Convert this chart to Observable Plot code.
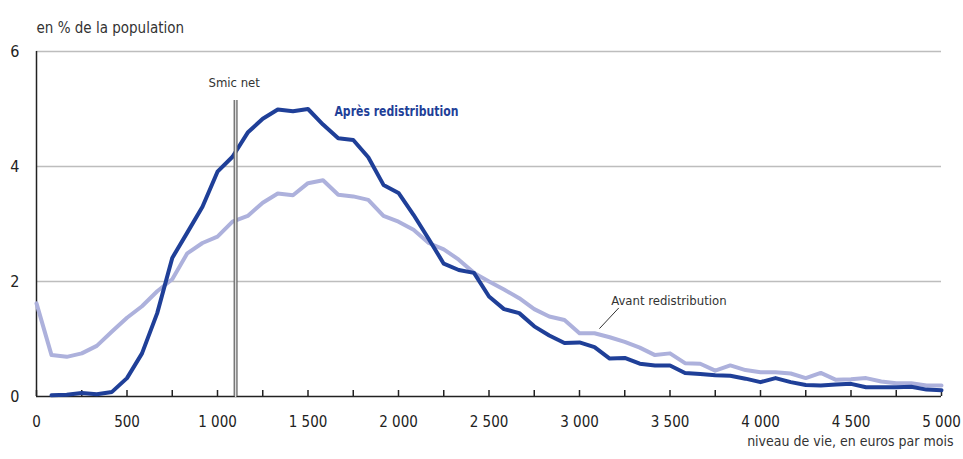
<!DOCTYPE html>
<html><head><meta charset="utf-8">
<script src="https://cdn.jsdelivr.net/npm/d3@7"></script>
<script src="https://cdn.jsdelivr.net/npm/@observablehq/plot@0.6"></script>
<style>
body{margin:0;background:#fff;}
#chart svg{font-family:"Liberation Sans Narrow","Arial Narrow","DejaVu Sans Condensed",sans-serif;}
</style></head><body><div id="chart"></div>
<script>
// niveau de vie mensuel (euros) : tranches de 1 000 € annuels
const niveau = [0,83,167,250,333,417,500,583,667,750,833,917,1000,1083,1167,1250,1333,1417,1500,1583,1667,1750,1833,1917,2000,2083,2167,2250,2333,2417,2500,2583,2667,2750,2833,2917,3000,3083,3167,3250,3333,3417,3500,3583,3667,3750,3833,3917,4000,4083,4167,4250,4333,4417,4500,4583,4667,4750,4833,4917,5000];
const avantRedistribution = [1.62,0.72,0.69,0.75,0.88,1.13,1.37,1.57,1.83,2.04,2.49,2.67,2.78,3.04,3.14,3.37,3.53,3.50,3.71,3.76,3.51,3.48,3.42,3.14,3.04,2.90,2.67,2.56,2.38,2.15,2.00,1.86,1.71,1.52,1.39,1.33,1.10,1.10,1.03,0.95,0.85,0.72,0.75,0.58,0.57,0.45,0.54,0.46,0.42,0.42,0.40,0.32,0.41,0.29,0.30,0.32,0.26,0.23,0.23,0.19,0.19];
const apresRedistribution = [null,0.02,0.03,0.06,0.04,0.08,0.32,0.75,1.45,2.41,2.85,3.30,3.91,4.17,4.59,4.83,4.99,4.96,5.00,4.73,4.49,4.46,4.16,3.68,3.54,3.16,2.74,2.31,2.20,2.15,1.74,1.52,1.45,1.22,1.06,0.93,0.94,0.86,0.66,0.67,0.57,0.54,0.54,0.41,0.39,0.37,0.36,0.31,0.25,0.32,0.25,0.20,0.19,0.21,0.22,0.16,0.16,0.16,0.17,0.12,0.11];
const yTicks = [0,2,4,6];
const xLabelTicks = [0,500,1000,1500,2000,2500,3000,3500,4000,4500,5000];
const xMinorTicks = [0,250,500,750,1000,1250,1500,1750,2000,2250,2500,2750,3000,3250,3500,3750,4000,4250,4500,4750,5000];
const smicNet = 1100;
const smicTop = 5.15;
const labels = {
  yTitle: "en % de la population",
  xTitle: "niveau de vie, en euros par mois",
  smic: "Smic net",
  apres: "Après redistribution",
  avant: "Avant redistribution"
};
// annotation anchors (data units)
const apresLabel = [{x:1646, y:4.96}];
const smicLabel = [{x:1092, y:5.45}];
const avantLabel = [{x:3175, y:1.67}];
const avantLeader = [{x1:3110, y1:1.18, x2:3217, y2:1.54}];

const fr = d3.formatLocale({decimal:",", thousands:"\u00a0", grouping:[3], currency:["","€"]});
const fmt = fr.format(",d");

const rowsAvant = niveau.map((x,i)=>({x, y: avantRedistribution[i]}));
const rowsApres = niveau.map((x,i)=>({x, y: apresRedistribution[i]})).filter(d=>d.y!=null);

const dark = "#1f3f98", light = "#adb1dc", ink = "#222";
const plotH = 459 - 51 - 63;

const chart = Plot.plot({
  width: 963, height: 459,
  marginLeft: 36, marginRight: 22, marginTop: 51, marginBottom: 63,
  style: {fontSize: "15px", color: ink, background: "#fff", fontFamily: '"Liberation Sans Narrow","Arial Narrow","DejaVu Sans Condensed",sans-serif'},
  x: {domain: [0,5000]},
  y: {domain: [0,6]},
  marks: [
    Plot.gridY(yTicks.filter(d=>d>0), {stroke:"#bdbdbd", strokeOpacity:1, strokeWidth:1.5}),
    Plot.axisY(yTicks, {tickSize:0, tickPadding:17, tickFormat:"d", label:null, fontSize:16}),
    Plot.axisX(xLabelTicks, {tickSize:0, tickPadding:20, tickFormat:fmt, label:null, fontSize:15}),
    Plot.ruleX(xMinorTicks, {insetTop: plotH - 6, stroke: ink, strokeWidth:1.5}),
    Plot.ruleY([0], {stroke: ink, strokeWidth:1.5}),
    Plot.ruleX([0], {stroke: ink, strokeWidth:1.5}),
    Plot.line(rowsAvant, {x:"x", y:"y", stroke: light, strokeWidth:4, strokeLinejoin:"round"}),
    Plot.line(rowsApres, {x:"x", y:"y", stroke: dark, strokeWidth:4, strokeLinejoin:"round"}),
    Plot.ruleX([smicNet], {y1:0, y2:smicTop, stroke:"#666", strokeWidth:4}),
    Plot.ruleX([smicNet], {y1:0, y2:smicTop, stroke:"#ddd", strokeWidth:1.5, insetTop:1}),
    Plot.text(smicLabel, {x:"x", y:"y", text:()=>labels.smic, fill:"#333", fontSize:13}),
    Plot.text(apresLabel, {x:"x", y:"y", text:()=>labels.apres, fill:dark, fontWeight:"bold", fontSize:14, textAnchor:"start", className:"apres-label"}),
    Plot.text(avantLabel, {x:"x", y:"y", text:()=>labels.avant, fill:"#333", fontSize:13, textAnchor:"start"}),
    Plot.link(avantLeader, {x1:"x1", y1:"y1", x2:"x2", y2:"y2", stroke:"#333", strokeWidth:1}),
    Plot.text([labels.yTitle], {frameAnchor:"top-left", textAnchor:"start", dy:-29, fill:"#333", fontSize:15}),
    Plot.text([labels.xTitle], {frameAnchor:"bottom-right", textAnchor:"end", dx:12, dy:49, fill:"#333", fontSize:14})
  ]
});
d3.select(chart).selectAll(".apres-label text").attr("textLength", 124).attr("lengthAdjust", "spacingAndGlyphs");
document.getElementById("chart").appendChild(chart);
</script></body></html>
